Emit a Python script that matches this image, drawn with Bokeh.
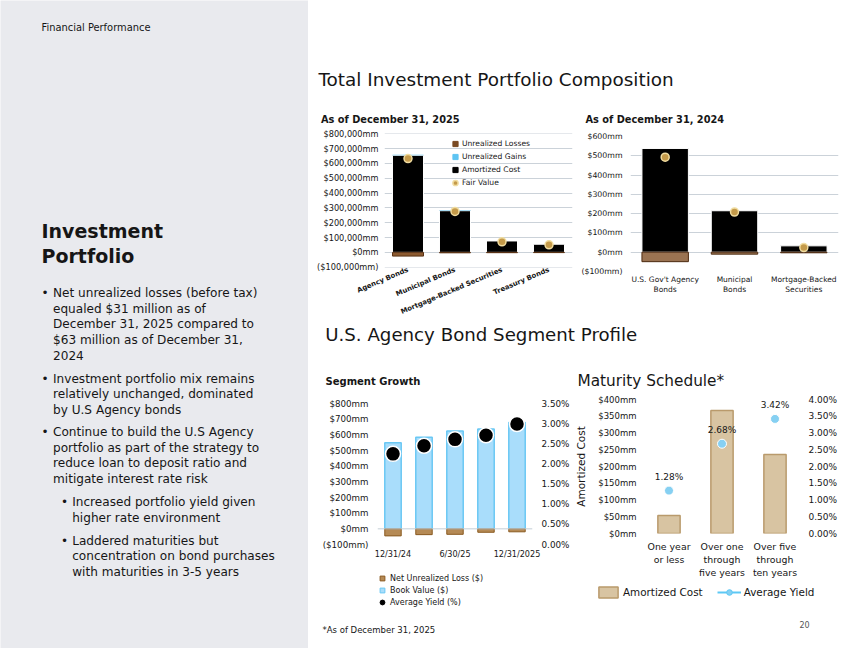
from bokeh.plotting import figure
from bokeh.layouts import row, column
from bokeh.models import (Range1d, Label, LinearAxis, FixedTicker, Legend, LegendItem,
                          Span, PrintfTickFormatter)
from bokeh.embed import file_html
from bokeh.resources import INLINE
from bokeh.core.properties import value

FONT = "DejaVu Sans"
INK = "#161616"
NAN = float("nan")

# ---------------- data ----------------
cats_2025 = ["Agency Bonds", "Municipal Bonds", "Mortgage-Backed Securities", "Treasury Bonds"]
amortized_2025 = [655000, 281000, 77000, 55000]
gains_2025 = [3000, 2500, 600, 400]
losses_2025 = [-25000, -3000, -2000, -1500]
fair_2025 = [633000, 276000, 71000, 51000]
yticks_2025 = [-100000, 0, 100000, 200000, 300000, 400000, 500000, 600000, 700000, 800000]
ylabels_2025 = ["($100,000mm)", "$0mm", "$100,000mm", "$200,000mm", "$300,000mm",
                "$400,000mm", "$500,000mm", "$600,000mm", "$700,000mm", "$800,000mm"]

cats_2024 = ["U.S. Gov't Agency\nBonds", "Municipal\nBonds", "Mortgage-Backed\nSecurities"]
amortized_2024 = [538, 215, 33]
losses_2024 = [-49, -10, -3]
fair_2024 = [493, 208, 24]
yticks_2024 = [-100, 0, 100, 200, 300, 400, 500, 600]
ylabels_2024 = ["($100mm)", "$0mm", "$100mm", "$200mm", "$300mm", "$400mm", "$500mm", "$600mm"]

periods = ["12/31/24", "3/31/25", "6/30/25", "9/30/25", "12/31/2025"]
period_ticks_shown = [0, 2, 4]
book_value = [549, 585, 624, 637, 679]
net_unrealized_loss = [-45, -37, -35, -22, -19]
avg_yield_seg = [2.25, 2.45, 2.61, 2.71, 2.99]
yticks_seg = [-100, 0, 100, 200, 300, 400, 500, 600, 700, 800]
ylabels_seg = ["($100mm)", "$0mm", "$100mm", "$200mm", "$300mm", "$400mm",
               "$500mm", "$600mm", "$700mm", "$800mm"]
pct_ticks_seg = [0, 0.5, 1.0, 1.5, 2.0, 2.5, 3.0, 3.5]

buckets = ["One year\nor less", "Over one\nthrough\nfive years", "Over five\nthrough\nten years"]
amortized_mat = [54, 367, 236]
yield_mat = [1.28, 2.68, 3.42]
yticks_mat = [0, 50, 100, 150, 200, 250, 300, 350, 400]
ylabels_mat = ["$0mm", "$50mm", "$100mm", "$150mm", "$200mm", "$250mm", "$300mm", "$350mm", "$400mm"]
pct_ticks_mat = [0, 0.5, 1.0, 1.5, 2.0, 2.5, 3.0, 3.5, 4.0]

bullets = [
    (0, ["Net unrealized losses (before tax)", "equaled $31 million as of",
         "December 31, 2025 compared to", "$63 million as of December 31,", "2024"]),
    (0, ["Investment portfolio mix remains", "relatively unchanged, dominated",
         "by U.S Agency bonds"]),
    (0, ["Continue to build the U.S Agency", "portfolio as part of the strategy to",
         "reduce loan to deposit ratio and", "mitigate interest rate risk"]),
    (1, ["Increased portfolio yield given", "higher rate environment"]),
    (1, ["Laddered maturities but", "concentration on bond purchases",
         "with maturities in 3-5 years"]),
]
bullet_starts = [292.7, 378.0, 431.7, 501.5, 540.0]
LINE_H = 15.6


# ---------------- helpers ----------------
def text_fig(w, h, bg="white"):
    p = figure(width=w, height=h, x_range=Range1d(0, w), y_range=Range1d(h, 0),
               output_backend="svg", toolbar_location=None, title=None, min_border=0,
               x_axis_type=None, y_axis_type=None)
    p.outline_line_color = None
    p.background_fill_color = bg
    p.border_fill_color = bg
    return p


def put(p, x, y, text, size, style="normal", color=INK):
    p.add_layout(Label(x=x, y=y, text=text, text_font=FONT, text_font_size=size,
                       text_font_style=style, text_color=color,
                       text_baseline="middle", text_align="left"))


def chart(w, h, xr, yr, left, right, top, bottom):
    p = figure(width=w, height=h, x_range=xr, y_range=yr, output_backend="svg",
               toolbar_location=None, title=None, min_border_left=left,
               min_border_right=right, min_border_top=top, min_border_bottom=bottom)
    p.outline_line_color = None
    p.xgrid.visible = False
    p.ygrid.visible = False
    return p


def style_axis(ax, size, standoff, style="normal"):
    ax.axis_line_color = None
    ax.major_tick_line_color = None
    ax.minor_tick_line_color = None
    ax.major_tick_out = 0
    ax.major_tick_in = 0
    ax.minor_tick_out = 0
    ax.minor_tick_in = 0
    ax.major_label_text_font = FONT
    ax.major_label_text_font_size = size
    ax.major_label_text_font_style = style
    ax.major_label_text_color = INK
    ax.major_label_standoff = standoff


def legend(items, **kw):
    base = dict(padding=0, margin=0, label_standoff=0, border_line_color=None,
                background_fill_alpha=0, label_text_font=FONT, label_text_color=INK)
    base.update(kw)
    return Legend(items=items, **base)


# ---------------- left panel ----------------
PANEL = "#e9eaee"
left = text_fig(308, 648, PANEL)
put(left, 41, 27, "Financial Performance", "9.9px")
put(left, 41, 230, "Investment", "19px", "bold")
put(left, 41, 255, "Portfolio", "19px", "bold")
for (lvl, lines), y0 in zip(bullets, bullet_starts):
    bx = 41 if lvl == 0 else 60.5
    tx = 52.5 if lvl == 0 else 71.7
    put(left, bx, y0, "\u2022", "12px")
    for i, ln in enumerate(lines):
        put(left, tx, y0 + i * LINE_H, ln, "12.1px")

# ---------------- text strips on the right ----------------
top_txt = text_fig(542, 126)
put(top_txt, 10, 79, "Total Investment Portfolio Composition", "18.4px")
put(top_txt, 12.5, 119, "As of December 31, 2025", "9.8px", "bold")
put(top_txt, 277, 119, "As of December 31, 2024", "9.8px", "bold")

mid_txt = text_fig(542, 70)
put(mid_txt, 16.7, 12, "U.S. Agency Bond Segment Profile", "18.2px")
put(mid_txt, 17, 59, "Segment Growth", "10px", "bold")
put(mid_txt, 269, 58, "Maturity Schedule*", "15.3px")

foot_txt = text_fig(542, 36)
put(foot_txt, 14, 17, "*As of December 31, 2025", "8.5px")
put(foot_txt, 491, 12, "20", "8px", color="#555555")

# ---------------- chart 1: 2025 composition ----------------
x1 = list(range(len(cats_2025)))
p1 = chart(270, 196, Range1d(-0.5, len(x1) - 0.5), Range1d(-102000, 802000), 76, 6, 7, 51)
p1.ygrid.visible = True
p1.ygrid.grid_line_color = "#cbd2d9"
ax = p1.left[0]
ax.ticker = FixedTicker(ticks=yticks_2025)
ax.major_label_overrides = dict(zip(yticks_2025, ylabels_2025))
style_axis(ax, "8.2px", 6)
bx1 = p1.below[0]
bx1.ticker = FixedTicker(ticks=x1)
bx1.major_label_overrides = dict(zip(x1, cats_2025))
bx1.major_label_orientation = 0.4
style_axis(bx1, "6.9px", 2, "bold")

p1.vbar(x=x1, bottom=0, top=amortized_2025, width=0.66, fill_color="black",
        line_color="white", line_width=1)
gain_top = [a + g for a, g in zip(amortized_2025, gains_2025)]
p1.vbar(x=x1, bottom=amortized_2025, top=gain_top, width=0.66, fill_color="#5ec4f2", line_color=None)
p1.vbar(x=x1, bottom=losses_2025, top=0, width=0.66, fill_color="#8c5a30",
        line_color="#5a3214", line_width=1)
r_fair = p1.scatter(x=x1, y=fair_2025, size=8, fill_color="#c49a4a", line_color="#f0dca0", line_width=1.5)

d_loss = p1.scatter(x=[NAN], y=[NAN], marker="square", fill_color="#7a4a22", line_color="#7a4a22")
d_gain = p1.scatter(x=[NAN], y=[NAN], marker="square", fill_color="#5ec4f2", line_color="#5ec4f2")
d_cost = p1.scatter(x=[NAN], y=[NAN], marker="square", fill_color="black", line_color="black")
leg1 = legend([LegendItem(label="Unrealized Losses", renderers=[d_loss]),
               LegendItem(label="Unrealized Gains", renderers=[d_gain]),
               LegendItem(label="Amortized Cost", renderers=[d_cost]),
               LegendItem(label="Fair Value", renderers=[r_fair])],
              location=(64, 78), orientation="vertical", glyph_width=14, glyph_height=13,
              label_height=13, spacing=0, label_text_font_size="7.6px")
p1.add_layout(leg1)

# ---------------- chart 2: 2024 composition ----------------
x2 = list(range(len(cats_2024)))
p2 = chart(272, 196, Range1d(-0.5, len(x2) - 0.5), Range1d(-100, 600), 52, 12, 10, 51)
p2.ygrid.visible = True
p2.ygrid.grid_line_color = "#cbd2d9"
ax = p2.left[0]
ax.ticker = FixedTicker(ticks=yticks_2024)
ax.major_label_overrides = dict(zip(yticks_2024, ylabels_2024))
style_axis(ax, "7.8px", 8)
bx2 = p2.below[0]
bx2.ticker = FixedTicker(ticks=x2)
bx2.major_label_overrides = dict(zip(x2, cats_2024))
style_axis(bx2, "7.5px", 3)

p2.vbar(x=x2, bottom=0, top=amortized_2024, width=0.67, fill_color="black",
        line_color="white", line_width=1)
p2.vbar(x=x2, bottom=losses_2024, top=0, width=0.67, fill_color="#9a7352",
        line_color="#4d2a10", line_width=1)
p2.scatter(x=x2, y=fair_2024, size=8, fill_color="#c49a4a", line_color="#f0dca0", line_width=1.5)

# ---------------- chart 3: segment growth ----------------
x3 = list(range(len(periods)))
p3 = chart(264, 174, Range1d(-0.5, len(x3) - 0.5), Range1d(-100, 800), 69, 39, 11, 22)
p3.extra_y_ranges = {"yield": Range1d(0, 3.5)}
ax = p3.left[0]
ax.ticker = FixedTicker(ticks=yticks_seg)
ax.major_label_overrides = dict(zip(yticks_seg, ylabels_seg))
style_axis(ax, "8.7px", 9)
bx3 = p3.below[0]
bx3.ticker = FixedTicker(ticks=period_ticks_shown)
bx3.major_label_overrides = {i: periods[i] for i in period_ticks_shown}
style_axis(bx3, "8.1px", 4)
ax_r3 = LinearAxis(y_range_name="yield", ticker=FixedTicker(ticks=pct_ticks_seg),
                   formatter=PrintfTickFormatter(format="%.2f%%"))
style_axis(ax_r3, "8.8px", 9)
p3.add_layout(ax_r3, "right")
p3.add_layout(Span(location=0, dimension="width", line_color="#c3ced6", line_width=1))

p3.vbar(x=x3, bottom=0, top=book_value, width=0.53, fill_color="#a9ddfb",
        line_color="#6ac8f4", line_width=1.5)
p3.vbar(x=x3, bottom=net_unrealized_loss, top=0, width=0.53, fill_color="#b58a55",
        line_color="#8a5a20", line_width=1)
p3.scatter(x=x3, y=avg_yield_seg, y_range_name="yield", size=15,
           fill_color="black", line_color="white", line_width=1.5)

# legend strip under chart 3
lf3 = text_fig(264, 46)
k_loss = lf3.scatter(x=[NAN], y=[NAN], marker="square", fill_color="#b58a55", line_color="#8a5a20")
k_book = lf3.scatter(x=[NAN], y=[NAN], marker="square", fill_color="#a9ddfb", line_color="#6ac8f4")
k_yld = lf3.scatter(x=[NAN], y=[NAN], fill_color="black", line_color="black")
lf3.add_layout(legend([LegendItem(label="Net Unrealized Loss ($)", renderers=[k_loss]),
                       LegendItem(label="Book Value ($)", renderers=[k_book]),
                       LegendItem(label="Average Yield (%)", renderers=[k_yld])],
                      location=(66, 4), orientation="vertical", glyph_width=16, glyph_height=12,
                      label_height=12, spacing=0, label_text_font_size="8px"))

# ---------------- chart 4: maturity schedule ----------------
x4 = list(range(len(buckets)))
p4 = chart(278, 188, Range1d(-0.5, len(x4) - 0.5), Range1d(0, 400), 70, 49, 7, 46)
p4.extra_y_ranges = {"yield": Range1d(0, 4)}
ax = p4.left[0]
ax.ticker = FixedTicker(ticks=yticks_mat)
ax.major_label_overrides = dict(zip(yticks_mat, ylabels_mat))
style_axis(ax, "8.5px", 6)
ax.axis_label = "Amortized Cost"
ax.axis_label_text_font = FONT
ax.axis_label_text_font_size = "10.5px"
ax.axis_label_text_font_style = "normal"
ax.axis_label_text_color = INK
ax.axis_label_standoff = 8
bx4 = p4.below[0]
bx4.ticker = FixedTicker(ticks=x4)
bx4.major_label_overrides = dict(zip(x4, buckets))
style_axis(bx4, "9.4px", 7)
ax_r4 = LinearAxis(y_range_name="yield", ticker=FixedTicker(ticks=pct_ticks_mat),
                   formatter=PrintfTickFormatter(format="%.2f%%"))
style_axis(ax_r4, "9px", 7)
p4.add_layout(ax_r4, "right")

p4.vbar(x=x4, bottom=0, top=amortized_mat, width=0.42, fill_color="#d8c4a2",
        line_color="#b99a6c", line_width=1.5)
p4.scatter(x=x4, y=yield_mat, y_range_name="yield", size=9,
           fill_color="#86d0f2", line_color="white", line_width=1)
p4.text(x=x4, y=yield_mat, text=[f"{v:.2f}%" for v in yield_mat], y_range_name="yield",
        y_offset=-14, text_align="center", text_baseline="middle",
        text_font=value(FONT), text_font_size="9px", text_color=INK)

# legend strip under chart 4
lf4 = text_fig(278, 32)
k_cost = lf4.vbar(x=[NAN], top=[NAN], width=1, fill_color="#d8c4a2", line_color="#b99a6c", line_width=1.5)
k_line = lf4.line(x=[NAN, NAN], y=[NAN, NAN], line_color="#5cc8f5", line_width=2)
k_dot = lf4.scatter(x=[NAN], y=[NAN], fill_color="#86d0f2", line_color="#5cc8f5", line_width=1)
lf4.add_layout(legend([LegendItem(label="Amortized Cost", renderers=[k_cost]),
                       LegendItem(label="Average Yield", renderers=[k_line, k_dot])],
                      location=(24, 13), orientation="horizontal", glyph_width=24, glyph_height=14,
                      label_height=14, spacing=14, label_standoff=3, label_text_font_size="10.4px"))

# ---------------- layout ----------------
right = column(top_txt, row(column(p1), column(p2)), mid_txt,
               row(column(p3, row(lf3)), column(p4, row(lf4))), foot_txt)
layout = row(left, right)

open("out.html", "w").write(file_html(layout, INLINE))
